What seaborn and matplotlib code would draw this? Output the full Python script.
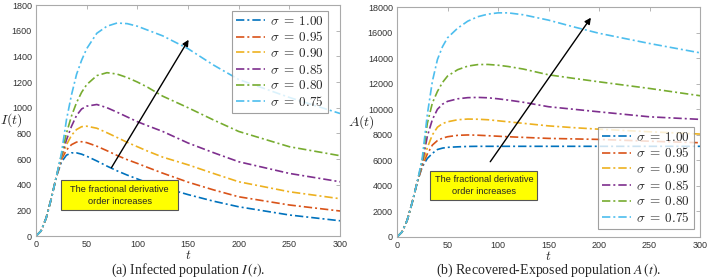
import numpy as np
import pandas as pd
import matplotlib
matplotlib.use("Agg")
import matplotlib.pyplot as plt
from matplotlib.patches import Rectangle
import seaborn as sns

sigmas = ["1.00", "0.95", "0.90", "0.85", "0.80", "0.75"]
colors = ["#0072BD", "#D95319", "#EDB120", "#7E2F8E", "#77AC30", "#4DBEEE"]

t = [0, 5, 10, 15, 20, 25, 30, 35, 40, 45, 50, 60, 70, 80, 90, 100, 110, 125, 150, 175, 200, 250, 300]

# infected population I(t)
I_100 = [0, 40, 140, 290, 460, 575, 630, 648, 648, 638, 622, 585, 545, 508, 475, 445, 415, 380, 323, 272, 228, 164, 119]
I_095 = [0, 40, 140, 290, 460, 595, 670, 712, 732, 735, 728, 700, 665, 628, 595, 566, 535, 490, 420, 360, 306, 242, 195]
I_090 = [0, 40, 140, 290, 460, 610, 710, 785, 830, 852, 856, 840, 805, 768, 730, 696, 662, 615, 555, 488, 423, 345, 291]
I_085 = [0, 40, 140, 290, 460, 620, 748, 855, 940, 990, 1012, 1025, 1000, 965, 928, 891, 860, 815, 725, 650, 579, 488, 423]
I_080 = [0, 40, 140, 290, 460, 630, 800, 935, 1040, 1120, 1180, 1250, 1273, 1262, 1235, 1200, 1160, 1090, 1000, 905, 815, 696, 626]
I_075 = [0, 40, 140, 290, 460, 640, 904, 1100, 1260, 1370, 1460, 1580, 1635, 1660, 1655, 1635, 1605, 1560, 1460, 1333, 1220, 1080, 955]

# recovered-exposed population A(t)
A_100 = [0, 400, 1300, 2700, 4300, 5500, 6150, 6550, 6850, 6960, 7020, 7060, 7090, 7100, 7100, 7100, 7100, 7100, 7100, 7100, 7100, 7100, 7100]
A_095 = [0, 400, 1300, 2700, 4300, 5600, 6500, 7200, 7550, 7740, 7850, 7960, 7990, 7970, 7930, 7890, 7850, 7800, 7720, 7680, 7640, 7500, 7380]
A_090 = [0, 400, 1300, 2700, 4300, 5700, 7000, 8000, 8600, 8880, 9020, 9180, 9235, 9220, 9180, 9100, 9020, 8900, 8700, 8560, 8440, 8240, 8060]
A_085 = [0, 400, 1300, 2700, 4300, 5800, 7900, 9200, 10000, 10400, 10620, 10820, 10910, 10930, 10900, 10820, 10720, 10550, 10200, 10000, 9800, 9410, 9210]
A_080 = [0, 400, 1300, 2700, 4300, 6000, 8900, 10500, 11400, 12100, 12600, 13100, 13380, 13500, 13510, 13450, 13350, 13150, 12700, 12420, 12150, 11630, 11060]
A_075 = [0, 400, 1300, 2700, 4300, 6200, 9600, 12200, 13900, 14900, 15600, 16350, 16900, 17250, 17450, 17550, 17550, 17400, 16980, 16450, 15950, 15150, 14420]

I_series = [I_100, I_095, I_090, I_085, I_080, I_075]
A_series = [A_100, A_095, A_090, A_085, A_080, A_075]


def long_form(series):
    rows = []
    for s, vals in zip(sigmas, series):
        for ti, v in zip(t, vals):
            rows.append({"t": ti, "value": v, "sigma": s})
    return pd.DataFrame(rows)


df_I = long_form(I_series)
df_A = long_form(A_series)

sns.set_style("white")
plt.rcParams["font.family"] = ["Liberation Sans", "DejaVu Sans"]
plt.rcParams["mathtext.fontset"] = "cm"

fig = plt.figure(figsize=(7.09, 2.80), dpi=100)
ax1 = fig.add_axes([0.0508, 0.157, 0.4288, 0.825])
ax2 = fig.add_axes([0.560, 0.1536, 0.4274, 0.821])

dash_map = {s: (5, 1.8, 1.2, 1.8) for s in sigmas}
pal = dict(zip(sigmas, colors))

for ax, df, ymax, ystep in [(ax1, df_I, 1800, 200), (ax2, df_A, 18000, 2000)]:
    sns.lineplot(data=df, x="t", y="value", hue="sigma", style="sigma",
                 palette=pal, dashes=dash_map, hue_order=sigmas, style_order=sigmas,
                 linewidth=1.2, legend=False, ax=ax)
    ax.set_xlim(0, 300)
    ax.set_ylim(0, ymax)
    ax.set_xticks(range(0, 301, 50))
    ax.set_yticks(range(0, ymax + 1, ystep))
    ax.tick_params(direction="in", length=3, width=0.6, labelsize=6.5,
                   colors="#aaaaaa", labelcolor="#333333", top=True, right=True, pad=3)
    for sp in ax.spines.values():
        sp.set_color("#aaaaaa")
        sp.set_linewidth(0.8)
    ax.set_xlabel("$t$", fontsize=9.5, labelpad=0)
    ax.set_ylabel("")

ax1.text(-0.082, 0.5, "$I(t)$", transform=ax1.transAxes, fontsize=10, ha="center", va="center")
ax2.text(-0.118, 0.5, "$A(t)$", transform=ax2.transAxes, fontsize=10, ha="center", va="center")

labels = [r"$\sigma\;=\;%s$" % s for s in sigmas]
leg_kw = dict(fontsize=9.5, frameon=True, fancybox=False, edgecolor="#888888",
              handlelength=2.2, handletextpad=0.4, borderpad=0.3, labelspacing=0.2,
              borderaxespad=0.0)
lg1 = ax1.legend(ax1.lines[:6], labels, loc="upper right", bbox_to_anchor=(0.96, 0.975), **leg_kw)
lg2 = ax2.legend(ax2.lines[:6], labels, loc="lower right", bbox_to_anchor=(0.98, 0.035), **leg_kw)
for lg in (lg1, lg2):
    lg.get_frame().set_linewidth(0.8)

box_txt = "The fractional derivative\norder increases"
# left annotation
ax1.annotate("", xy=(152, 1548), xytext=(73, 514),
             arrowprops=dict(arrowstyle="-|>", color="black", lw=1.0, mutation_scale=9))
ax1.add_patch(Rectangle((25, 200), 115, 235, facecolor="#ffff00", edgecolor="#555555", lw=0.8, zorder=5))
ax1.text(82.5, 317, box_txt, ha="center", va="center", fontsize=6.7, linespacing=1.5, zorder=6)
# right annotation
ax2.annotate("", xy=(193.5, 17350), xytext=(90.7, 5714),
             arrowprops=dict(arrowstyle="-|>", color="black", lw=1.0, mutation_scale=9))
ax2.add_patch(Rectangle((33, 2900), 106, 2300, facecolor="#ffff00", edgecolor="#555555", lw=0.8, zorder=5))
ax2.text(86, 4050, box_txt, ha="center", va="center", fontsize=6.7, linespacing=1.5, zorder=6)

cap_kw = dict(ha="center", va="center", fontsize=10, family="Liberation Serif", math_fontfamily="stix")
fig.text(0.0508 + 0.4288 / 2, 0.034, r"(a) Infected population $I\,(t)$.", **cap_kw)
fig.text(0.560 + 0.4274 / 2, 0.034, r"(b) Recovered-Exposed population $A\,(t)$.", **cap_kw)

fig.savefig("out.png", dpi=100)
